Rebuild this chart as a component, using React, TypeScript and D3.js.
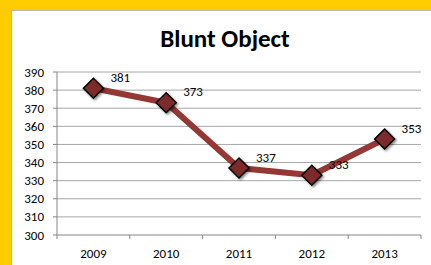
import React from 'react';
import * as d3 from 'd3';

const years = ['2009', '2010', '2011', '2012', '2013'];
const values = [381, 373, 337, 333, 353];
const yTicks = [300, 310, 320, 330, 340, 350, 360, 370, 380, 390];

const W = 431;
const H = 265;
const font = 'Carlito, Calibri, "Open Sans", sans-serif';

export default function App() {
  const x = d3.scaleBand().domain(years).range([57, 421]);
  const y = d3.scaleLinear().domain([300, 390]).range([235, 72]);

  const line = d3.line<number>()
    .x((_, i) => x(years[i])! + x.bandwidth() / 2)
    .y(d => y(d));

  const diamond = (cx: number, cy: number, r: number) =>
    `M${cx},${cy - r}L${cx + r},${cy}L${cx},${cy + r}L${cx - r},${cy}Z`;

  const boundaries = years.map(yr => x(yr)!).concat([x.range()[1]]);

  return (
    <svg width={W} height={H} style={{ position: 'absolute', left: 0, top: 0 }}>
      <defs>
        <filter id="sh" x="-50%" y="-50%" width="200%" height="200%">
          <feDropShadow dx="1.5" dy="1.5" stdDeviation="1" floodColor="#000" floodOpacity="0.45" />
        </filter>
      </defs>
      <rect x={0} y={0} width={W} height={H} fill="#ffffff" />
      <rect x={0} y={0} width={W} height={10} fill="#FFCC00" />
      <rect x={0} y={0} width={11} height={H} fill="#FFCC00" />
      <line x1={11.5} y1={10} x2={11.5} y2={H} stroke="#b8b8b8" />
      <line x1={11} y1={10.5} x2={W} y2={10.5} stroke="#b8b8b8" />

      <text x={225} y={47} textAnchor="middle" fontFamily={font} fontWeight="bold" fontSize={25} fill="#000">
        Blunt Object
      </text>

      {yTicks.map(t => (
        <g key={t}>
          {t > 300 && (
            <line x1={57} x2={421} y1={y(t)} y2={y(t)} stroke="#a6a6a6" strokeWidth={1} />
          )}
          <line x1={53} x2={57} y1={y(t)} y2={y(t)} stroke="#868686" />
          <text x={44} y={y(t)} dy="0.35em" textAnchor="end" fontFamily={font} fontSize={13} fill="#000">
            {t}
          </text>
        </g>
      ))}
      <line x1={57} x2={57} y1={72} y2={235} stroke="#868686" />
      <line x1={57} x2={421} y1={235} y2={235} stroke="#868686" />
      {boundaries.map((b, i) => (
        <line key={i} x1={b} x2={b} y1={235} y2={239} stroke="#868686" />
      ))}
      {years.map(yr => (
        <text key={yr} x={x(yr)! + x.bandwidth() / 2} y={258} textAnchor="middle" fontFamily={font} fontSize={13} fill="#000">
          {yr}
        </text>
      ))}

      <path d={line(values) ?? ''} fill="none" stroke="#953735" strokeWidth={6} strokeLinejoin="round" />
      {values.map((v, i) => {
        const cx = x(years[i])! + x.bandwidth() / 2;
        const cy = y(v);
        return (
          <g key={i}>
            <path d={diamond(cx, cy, 10)} fill="#7b2a2a" stroke="#000" strokeWidth={1.5} filter="url(#sh)" />
            <text x={cx + 17} y={cy - 11} dy="0.35em" fontFamily={font} fontSize={13} fill="#000">
              {v}
            </text>
          </g>
        );
      })}
    </svg>
  );
}
